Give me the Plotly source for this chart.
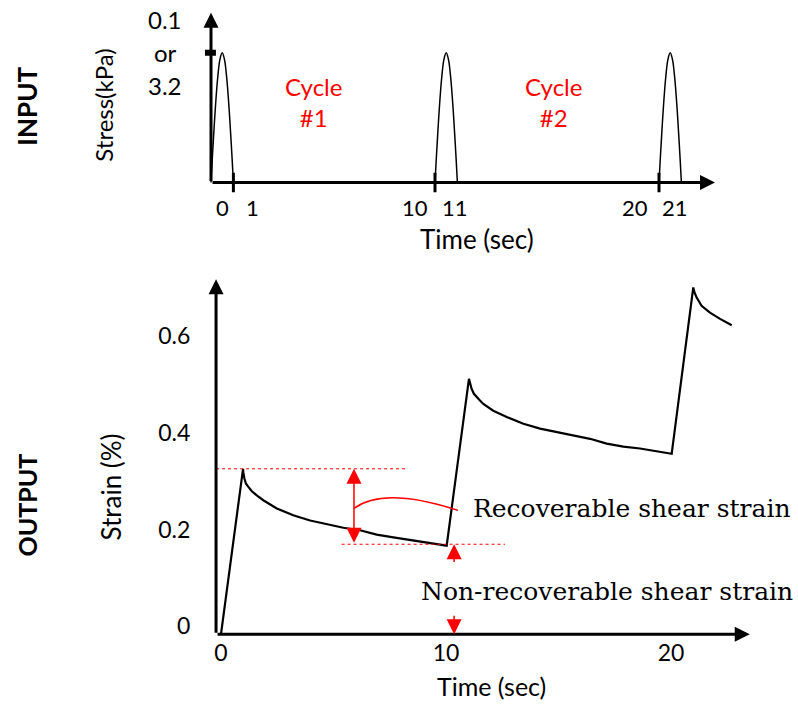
import plotly.graph_objects as go

W, H = 798, 704

# ------------------------------------------------------------------ data
# INPUT: stress pulses, normalised to the peak stress (0.1 or 3.2 kPa)
pulse_starts = [0, 10, 20]           # s
pulse_duration = 1.0                 # s
pulse_phase = [0, 0.05, 0.1, 0.2, 0.3, 0.4, 0.5, 0.6, 0.7, 0.8, 0.9, 0.95, 1.0]
pulse_level = [0, 0.16, 0.31, 0.59, 0.81, 0.95, 1.0, 0.95, 0.81, 0.59, 0.31, 0.16, 0]
input_tick_vals = [0, 1, 10, 11, 20, 21]
input_tick_text = ["0", "1", "10", "11", "20", "21"]
input_tick_marks = [1, 10, 20]
stress_labels = ["0.1", "or", "3.2"]
cycle_labels = ["Cycle<br>#1", "Cycle<br>#2"]

# OUTPUT: strain response (%)
strain_time = [0, 0.98, 0.99, 1.04, 1.11, 1.21, 1.36, 1.59, 1.88, 2.48, 3.21, 3.96, 4.70,
               5.44, 6.18, 6.92, 7.66, 8.40, 9.14, 9.88, 10.03,
               11.02, 11.07, 11.14, 11.24, 11.36, 11.51, 11.66, 12.10, 12.70, 13.44, 14.18,
               14.96, 15.66, 16.40, 17.14, 17.88, 18.62, 19.36, 20.03,
               20.99, 21.04, 21.14, 21.36, 21.73, 22.18, 22.70]
strain_value = [0, 0.342, 0.335, 0.322, 0.311, 0.305, 0.296, 0.287, 0.277, 0.260, 0.246, 0.235,
                0.227, 0.220, 0.215, 0.206, 0.200, 0.195, 0.190, 0.185, 0.183,
                0.528, 0.518, 0.507, 0.497, 0.490, 0.483, 0.476, 0.462, 0.449, 0.435, 0.425,
                0.418, 0.411, 0.404, 0.394, 0.388, 0.384, 0.379, 0.373,
                0.717, 0.707, 0.696, 0.679, 0.665, 0.652, 0.639]
output_x_ticks = [0, 10, 20]
output_y_ticks = [0, 0.2, 0.4, 0.6]
output_y_text = ["0", "0.2", "0.4", "0.6"]

# annotation levels (strain) for cycle 1
peak_strain_1 = 0.342
end_strain_1 = 0.186
recoverable_label = "Recoverable shear strain"
nonrecoverable_label = "Non-recoverable shear strain"

# ------------------------------------------------------------------ layout helpers
def px_x(p):
    return p / W

def px_y(p):
    return 1 - p / H

SANS = "Lato"
SERIF = "DejaVu Serif"
RED = "#ff0000"

fig = go.Figure()

# ---- input pulses
for s in pulse_starts:
    fig.add_trace(go.Scatter(
        x=[s + ph * pulse_duration for ph in pulse_phase], y=pulse_level,
        mode="lines", line=dict(color="black", width=1.5, shape="spline"),
        xaxis="x", yaxis="y", hoverinfo="skip", showlegend=False))

# ---- output strain
fig.add_trace(go.Scatter(
    x=strain_time, y=strain_value, mode="lines",
    line=dict(color="black", width=2.2),
    xaxis="x2", yaxis="y2", hoverinfo="skip", showlegend=False))

annotations = []
shapes = []


def text(xp, yp, txt, size, color="black", family=SANS, angle=0, xanchor="center",
         yanchor="middle"):
    annotations.append(dict(xref="paper", yref="paper", x=px_x(xp), y=px_y(yp), text=txt,
                            xanchor=xanchor, yanchor=yanchor, textangle=angle,
                            showarrow=False, borderpad=0,
                            font=dict(family=family, size=size, color=color)))


def arrow(xref, yref, tail, tip, color="black", width=3, size=1.0, head=2, side="end"):
    annotations.append(dict(
        xref=xref, yref=yref, axref=xref, ayref=yref,
        x=tip[0], y=tip[1], ax=tail[0], ay=tail[1], text="",
        showarrow=True, arrowhead=head, arrowsize=size, arrowwidth=width,
        arrowcolor=color, arrowside=side, standoff=0, startstandoff=0))

# ---- input axes
arrow("x", "y", (0, 0), (22.5, 0))
arrow("x", "y", (0, 0), (0, 1.31))
for t in input_tick_marks:
    shapes.append(dict(type="line", xref="x", yref="y", x0=t, x1=t, y0=-0.075, y1=0.075,
                       line=dict(color="black", width=3)))
shapes.append(dict(type="line", xref="x", yref="y", x0=-0.27, x1=0.22, y0=1, y1=1,
                   line=dict(color="black", width=6)))
label_shift = [11, 19, -20, -2, -24, -6]
for v, txt, sh in zip(input_tick_vals, input_tick_text, label_shift):
    annotations.append(dict(xref="x", yref="y", x=v, y=0, text=txt, showarrow=False,
                            xanchor="center", yanchor="middle", borderpad=0,
                            xshift=sh, yshift=-25, font=dict(family=SANS, size=22, color="black")))
for txt, yp in zip(stress_labels, [20, 53, 86]):
    text(165, yp, txt, 24)
for txt, xp in zip(cycle_labels, [313, 553]):
    text(xp, 102, txt, 24, color=RED)
text(477, 240, "Time (sec)", 26)
text(104, 106, "Stress(kPa)", 24, angle=-90)
text(27, 107, "<b>INPUT</b>", 26, angle=-90)

# ---- output axes
arrow("x2", "y2", (-0.22, 0), (23.5, 0))
arrow("x2", "y2", (-0.22, 0), (-0.22, 0.734))
text(491, 704, "Time (sec)", 25, yanchor="bottom")
text(111, 489, "Strain (%)", 26, angle=-90)
text(27, 507, "<b>OUTPUT</b>", 25, angle=-90)

# ---- recoverable / non-recoverable markers
dash = dict(color=RED, width=1, dash="3px,3px")
shapes.append(dict(type="line", xref="x2", yref="y2", x0=-0.22, x1=8.18,
                   y0=peak_strain_1, y1=peak_strain_1, line=dash))
shapes.append(dict(type="line", xref="x2", yref="y2", x0=5.36, x1=12.62,
                   y0=end_strain_1, y1=end_strain_1, line=dash))
arrow("x2", "y2", (5.91, end_strain_1), (5.91, peak_strain_1), color=RED, width=1.5,
      size=2, side="end+start")
shapes.append(dict(type="path", xref="x2", yref="y2",
                   path="M 5.91,0.26 Q 7.24,0.306 10.53,0.256",
                   line=dict(color=RED, width=1.5)))
arrow("x2", "y2", (10.36, 0.146), (10.36, end_strain_1), color=RED, width=1.5, size=2)
arrow("x2", "y2", (10.36, 0.041), (10.36, 0), color=RED, width=1.5, size=2)
text(472, 510, recoverable_label, 25, family=SERIF, xanchor="left")
text(420, 593, nonrecoverable_label, 25, family=SERIF, xanchor="left")

# ------------------------------------------------------------------ axes
hidden = dict(visible=False, showgrid=False, zeroline=False, fixedrange=True)
tickfont = dict(family=SANS, size=23, color="black")
fig.update_layout(
    width=W, height=H, margin=dict(l=0, r=0, t=0, b=0),
    paper_bgcolor="white", plot_bgcolor="rgba(0,0,0,0)", showlegend=False,
    xaxis=dict(domain=[px_x(188.6), px_x(726.2)], range=[-1, 23], anchor="y", **hidden),
    yaxis=dict(domain=[px_y(196), px_y(1)], range=[-0.1, 1.4], anchor="x", **hidden),
    xaxis2=dict(domain=[px_x(212), px_x(761)], range=[-0.4, 24], anchor="y2",
                showgrid=False, zeroline=False, showline=False, fixedrange=True,
                tickvals=output_x_ticks, ticks="", ticklen=0, tickfont=tickfont),
    yaxis2=dict(domain=[px_y(638.9), px_y(272.25)], range=[-0.006, 0.75], anchor="x2",
                showgrid=False, zeroline=False, showline=False, fixedrange=True,
                tickvals=output_y_ticks, ticktext=output_y_text, ticks="outside", ticklen=16,
                ticklabelshift=-8,
                tickcolor="rgba(0,0,0,0)", tickfont=tickfont),
    annotations=annotations, shapes=shapes,
)

fig.write_html(
    "out.html",
    config={"displayModeBar": False, "staticPlot": True},
    post_script=(
        "document.body.style.margin='0';"
        "var gd=document.getElementById('{plot_id}');"
        "gd.style.position='fixed';gd.style.left='0px';gd.style.top='0px';"
    ),
)
